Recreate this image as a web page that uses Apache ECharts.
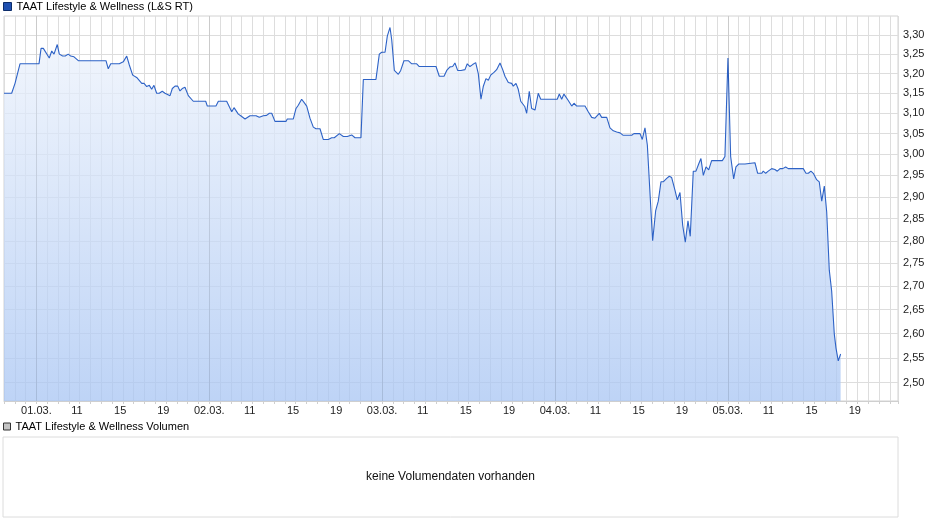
<!DOCTYPE html>
<html><head><meta charset="utf-8">
<script src="https://cdn.jsdelivr.net/npm/echarts@6/dist/echarts.min.js"></script>
<style>html,body{margin:0;padding:0;background:#fff}#c{width:940px;height:526px}</style>
</head><body><div id="c"></div>
<script>
// Compressed trading hours: 0 = 01.03. 07:00, each trading day spans 16 hours
const tradeHours = [-2.75,-2.04,-1.73,-1.55,-1.27,0.49,0.68,0.89,1.44,1.67,1.88,2.18,2.37,2.68,2.92,3.20,3.42,3.73,4.13,6.69,6.90,7.13,7.92,8.29,8.61,8.85,9.16,9.53,10.00,10.21,10.46,10.70,10.92,11.13,11.38,11.62,11.90,12.15,12.62,12.83,13.08,13.33,13.54,13.75,14.00,14.31,14.77,15.92,16.07,16.87,17.09,17.86,18.33,18.54,18.94,19.16,19.56,20.02,20.58,20.88,21.25,21.56,21.81,22.03,22.33,23.35,23.47,24.03,24.28,24.49,24.80,25.02,25.27,25.57,25.88,26.13,26.50,26.80,27.27,27.58,27.82,28.29,28.66,29.03,29.43,29.74,30.29,30.51,31.68,31.99,32.21,32.52,32.73,32.98,33.14,33.38,33.75,33.97,34.27,34.67,34.99,35.45,35.69,37.24,37.54,37.98,38.23,38.53,38.78,38.99,39.24,39.55,39.92,40.13,40.38,40.63,40.91,41.15,41.40,41.61,41.86,42.08,42.30,42.60,42.85,43.16,43.41,43.62,43.93,44.24,44.39,44.64,44.85,45.08,45.26,45.45,45.63,45.87,46.09,46.40,46.70,46.93,48.46,48.65,48.87,49.08,49.48,49.80,50.01,50.26,51.03,51.33,51.65,51.95,52.35,52.57,53.04,53.34,53.65,53.96,54.27,54.57,55.35,55.56,56.12,56.33,56.58,56.80,57.04,57.29,57.57,57.81,58.06,58.27,58.59,58.83,59.05,59.36,59.57,59.82,60.07,60.31,60.56,60.77,61.05,61.30,61.55,61.76,61.98,62.23,62.48,62.75,63.74,63.98,64.26,64.51,64.79,65.00,65.25,65.84,65.99,66.76,67.01,67.38,67.53,67.75,67.99,68.31,68.61,68.83,69.08,69.33,69.60,69.84,71.23,71.48,71.70,71.94,72.16,72.47,72.71,72.94,73.18,73.40,73.64,73.86,74.10,74.26,74.47,74.69];
const prices = [3.15,3.15,3.175,3.175,3.225,3.225,3.265,3.265,3.24,3.258,3.25,3.275,3.25,3.245,3.245,3.25,3.245,3.243,3.233,3.233,3.212,3.225,3.225,3.23,3.245,3.222,3.196,3.19,3.175,3.175,3.167,3.17,3.16,3.17,3.15,3.15,3.155,3.15,3.144,3.162,3.168,3.168,3.156,3.162,3.165,3.144,3.13,3.13,3.118,3.118,3.13,3.13,3.104,3.114,3.098,3.094,3.086,3.094,3.094,3.09,3.094,3.095,3.10,3.10,3.08,3.08,3.086,3.086,3.112,3.12,3.135,3.127,3.118,3.088,3.066,3.062,3.062,3.036,3.036,3.04,3.04,3.05,3.043,3.043,3.047,3.04,3.04,3.185,3.185,3.25,3.255,3.255,3.297,3.32,3.287,3.208,3.198,3.208,3.233,3.233,3.225,3.225,3.218,3.218,3.193,3.193,3.208,3.217,3.218,3.227,3.208,3.208,3.21,3.225,3.218,3.223,3.228,3.20,3.135,3.167,3.187,3.183,3.196,3.203,3.21,3.227,3.21,3.193,3.177,3.175,3.168,3.175,3.16,3.13,3.135,3.117,3.10,3.155,3.112,3.108,3.15,3.135,3.135,3.148,3.135,3.148,3.132,3.118,3.125,3.118,3.118,3.104,3.09,3.088,3.10,3.09,3.09,3.064,3.057,3.054,3.052,3.046,3.046,3.05,3.05,3.036,3.064,3.022,2.91,2.80,2.868,2.89,2.935,2.935,2.943,2.948,2.945,2.915,2.893,2.91,2.835,2.797,2.845,2.81,2.96,2.96,2.977,2.99,2.95,2.97,2.963,2.985,2.985,2.995,3.24,2.995,2.942,2.97,2.977,2.977,2.98,2.98,2.955,2.955,2.96,2.955,2.96,2.966,2.964,2.96,2.966,2.966,2.97,2.966,2.966,2.955,2.955,2.96,2.955,2.94,2.935,2.89,2.925,2.865,2.735,2.69,2.60,2.57,2.544,2.558];
const priceTicks = [2.50,2.55,2.60,2.65,2.70,2.75,2.80,2.85,2.90,2.95,3.00,3.05,3.10,3.15,3.20,3.25,3.30];
const dayLabels = ['01.03.','02.03.','03.03.','04.03.','05.03.'];
const hourLabels = [11,15,19];
const hoursPerDay = 16;
const dayBaseHour = 7;
const dayStartHour = 7.25;
const priceName = 'TAAT Lifestyle & Wellness (L&S RT)';
const volumeName = 'TAAT Lifestyle & Wellness Volumen';
const volumeNote = 'keine Volumendaten vorhanden';

const labelMap = {};
const labelValues = [];
const dayStarts = [];
dayLabels.forEach((d, i) => {
  const s = i * hoursPerDay + (dayStartHour - dayBaseHour);
  dayStarts.push(s);
  labelValues.push(s); labelMap[s.toFixed(2)] = d;
  hourLabels.forEach(h => {
    const v = i * hoursPerDay + (h - dayBaseHour);
    labelValues.push(v); labelMap[v.toFixed(2)] = String(h);
  });
});

const FONT = 'Liberation Sans, Arial, sans-serif';
const chart = echarts.init(document.getElementById('c'), null, {renderer: 'canvas'});
chart.setOption({
  animation: false,
  backgroundColor: '#fff',
  legend: [
    {left: 3, top: 1, padding: 0, icon: 'rect', itemWidth: 8, itemHeight: 8, selectedMode: false,
     textStyle: {fontSize: 11, color: '#000', fontFamily: FONT},
     data: [{name: priceName, itemStyle: {color: '#1f50b0', borderColor: '#0c2c6a', borderWidth: 1}}]},
    {left: 3, top: 421, padding: 0, icon: 'rect', itemWidth: 7, itemHeight: 7, selectedMode: false,
     textStyle: {fontSize: 11, color: '#000', fontFamily: FONT},
     data: [{name: volumeName, itemStyle: {color: '#c4c4c4', borderColor: '#333', borderWidth: 1}}]}
  ],
  grid: [
    {left: 4, top: 16, width: 894, height: 385, show: true, borderColor: '#d2d2d2', borderWidth: 1, backgroundColor: '#fff'},
    {left: 3, top: 437, width: 895, height: 80, show: true, borderColor: '#dcdcdc', borderWidth: 1, backgroundColor: '#fff'}
  ],
  xAxis: [
    {type: 'value', gridIndex: 0, min: -2.75, max: 80, interval: 1,
     axisLine: {show: true, lineStyle: {color: '#cfcfcf'}},
     axisTick: {show: true, length: 3, lineStyle: {color: '#cfcfcf'}},
     splitLine: {show: true, lineStyle: {color: '#dddddd', width: 1}},
     axisLabel: {customValues: labelValues, margin: 4, fontSize: 11, color: '#222', fontFamily: FONT,
       formatter: v => labelMap[Number(v).toFixed(2)] || ''}},
    {type: 'value', gridIndex: 1, show: false, min: 0, max: 1}
  ],
  yAxis: [
    {type: 'log', logBase: 10, gridIndex: 0, position: 'right', min: 2.4637, max: 3.3505,
     axisLine: {show: false},
     axisTick: {show: false, customValues: priceTicks},
     splitLine: {show: true, lineStyle: {color: '#dddddd', width: 1}},
     axisLabel: {customValues: priceTicks, margin: 5, fontSize: 11, color: '#222', fontFamily: FONT,
       formatter: v => Number(v).toFixed(2).replace('.', ',')}},
    {type: 'value', gridIndex: 1, show: false, min: 0, max: 1}
  ],
  graphic: [
    {type: 'text', x: 450.5, y: 477, style: {text: volumeNote, font: '12px ' + FONT, fill: '#111', align: 'center', verticalAlign: 'middle'}}
  ],
  series: [
    {type: 'line', name: priceName, xAxisIndex: 0, yAxisIndex: 0,
     data: tradeHours.map((h, i) => [h, prices[i]]),
     showSymbol: false, symbol: 'none',
     lineStyle: {color: '#2d62c6', width: 1.1},
     itemStyle: {color: '#1f50b0'},
     areaStyle: {opacity: 0.75, color: new echarts.graphic.LinearGradient(0, 0, 0, 1, [
       {offset: 0, color: '#eff4fc'}, {offset: 1, color: '#a8c5f3'}])},
     markLine: {silent: true, symbol: 'none', label: {show: false},
       lineStyle: {color: 'rgba(0,0,0,0.08)', type: 'solid', width: 1},
       data: dayStarts.map(v => ({xAxis: v}))}
    },
    {type: 'bar', name: volumeName, xAxisIndex: 1, yAxisIndex: 1, data: [], itemStyle: {color: '#c4c4c4'}}
  ]
});
</script></body></html>
